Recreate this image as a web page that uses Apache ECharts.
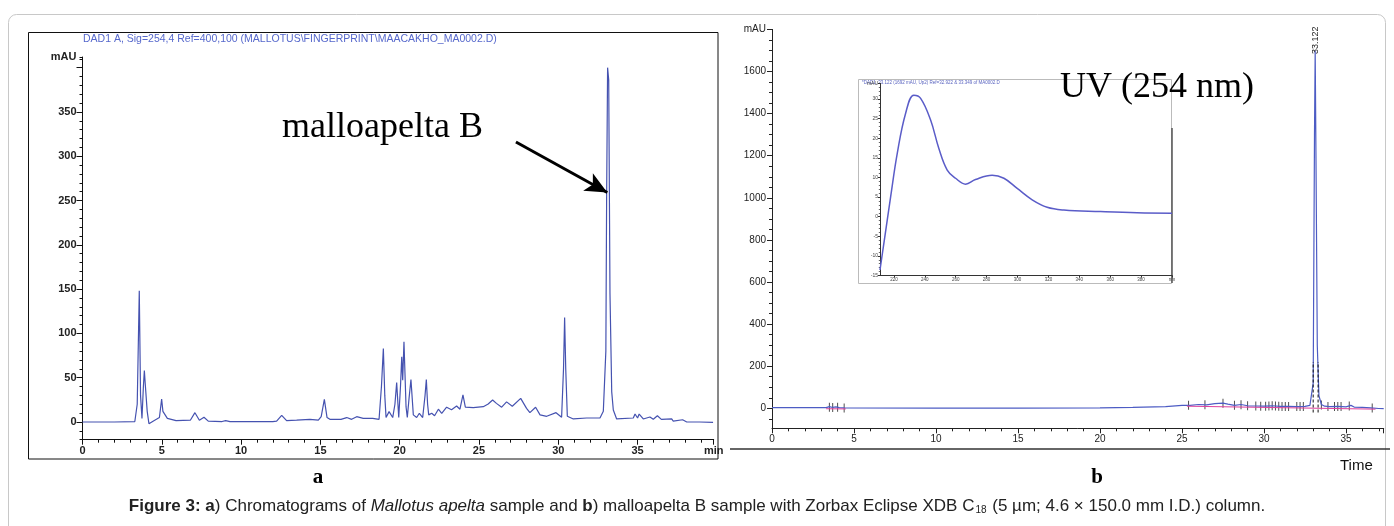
<!DOCTYPE html>
<html><head><meta charset="utf-8">
<script src="https://cdn.jsdelivr.net/npm/echarts@6/dist/echarts.min.js"></script>
<style>html,body{margin:0;padding:0;background:#fff}#c{width:1394px;height:526px}</style>
</head><body><div id="c"></div>
<script>
// ---- Panel a: chromatogram of Mallotus apelta sample (time min, mAU) ----
const leftTrace = [[0,0],[2.0,0],[3.3,0.5],[3.45,20],[3.58,148],[3.66,30],[3.75,4],[3.84,40],[3.90,58],[3.96,42],[4.0,40],[4.08,12],[4.19,-2],[4.5,1.5],[4.85,5],[4.99,26],[5.07,12],[5.12,10],[5.35,4],[5.9,1.5],[6.8,2],[7.09,10.5],[7.37,2],[7.66,5.3],[7.93,1],[8.8,0.5],[9.03,1.5],[9.3,0.5],[12.0,0.5],[12.24,1],[12.56,7.5],[12.87,1.5],[13.5,2],[14.34,3],[14.87,2],[15.05,6],[15.25,25.6],[15.42,5],[15.6,3],[16.3,3],[16.66,5],[16.97,3],[17.29,6],[17.7,4],[18.3,4],[18.7,3],[18.85,40],[18.97,83],[19.06,30],[19.14,5],[19.33,11.7],[19.56,5],[19.7,20],[19.81,44.4],[19.94,5],[20.05,40],[20.13,73.7],[20.19,47],[20.27,90.6],[20.4,17.3],[20.48,5],[20.59,26.7],[20.71,48],[20.86,8],[21.07,5],[21.24,9.8],[21.45,5],[21.6,30],[21.68,48],[21.76,20],[21.83,8],[22.02,9.8],[22.2,7],[22.44,14.4],[22.65,9.8],[22.96,16.7],[23.27,13.8],[23.59,18],[23.8,14.4],[23.99,30.5],[24.14,16.7],[24.64,16.3],[25.27,17.3],[25.58,20.3],[25.86,24.8],[26.1,21],[26.43,16.7],[26.74,22.7],[27.1,17.7],[27.63,26.7],[28.0,15.4],[28.21,10.5],[28.57,16.6],[28.85,8],[29.27,6.4],[29.86,10.5],[30.21,5.3],[30.33,60],[30.4,118],[30.47,60],[30.57,6.4],[30.95,3.4],[31.79,4.5],[32.63,4.5],[32.84,12],[32.96,13.5],[33.0,80],[33.05,258],[33.11,400],[33.18,386],[33.26,145],[33.37,34],[33.47,13.5],[33.68,3.4],[34.73,4.5],[34.84,9],[35.0,4.5],[35.1,9],[35.36,3.4],[35.78,5.6],[35.99,3],[36.25,7],[36.5,3],[37.15,3.4],[37.25,1],[37.84,2.5],[38.1,0],[38.9,0],[39.76,-0.5]];
const leftXLabels = [0,5,10,15,20,25,30,35];
const leftYLabels = [0,50,100,150,200,250,300,350];
const leftYMajor = [0,50,100,150,200,250,300,350,400];
const arrowFrom = [27.33,316];
const arrowTo = [33.09,259];

// ---- Panel b: malloapelta B sample ----
const rightTrace = [[0,3],[3.3,3],[3.5,8],[3.7,4],[3.9,7],[4.1,3],[4.4,2],[10,1],[15,1],[20,2],[22,4],[24,8],[25,14],[25.5,14],[26,18],[26.5,16],[27,22],[27.5,25],[27.8,20],[28.2,14],[28.6,18],[29,12],[29.5,11],[30,10],[30.5,12],[31,9],[31.5,9],[32,8],[32.5,9],[32.8,14],[33.0,120],[33.08,1300],[33.122,1700],[33.17,1200],[33.25,300],[33.35,60],[33.5,18],[33.7,10],[34,8],[34.5,9],[35,7],[35.3,14],[35.5,6],[36,4],[36.5,2],[37,-1],[37.3,-2]];
const baselineA = [[3.3,-2],[4.5,-3]];
const baselineB = [[25.3,10],[36.8,-4]];
const markerTimes = [3.5,3.7,4.0,4.4,25.4,26.4,27.5,28.2,28.6,29.0,29.5,29.8,30.1,30.3,30.5,30.7,30.9,31.1,31.3,31.5,32.0,32.2,32.4,33.5,33.9,34.3,34.5,34.7,35.2,36.6];
const markerValues = [5,4,5,2,14,17,24,14,17,12,11,10,10,11,12,11,10,9,9,9,8,8,9,16,8,8,8,9,11,1];
const peakTime = 33.122, peakValue = 1700, peakLabel = '33.122';
const dashLeft = [[33.0,-20],[33.0,220]];
const dashRight = [[33.3,-20],[33.3,220]];
const rightYLabels = [0,200,400,600,800,1000,1200,1400,1600,1800];

// ---- Inset: UV spectrum (nm, mAU) ----
const uvSpectrum = [[211,-13.6],[213.5,-6.8],[217.9,5.1],[222.2,16.2],[227.6,26.4],[232.9,31],[237.3,30.2],[243.7,24.7],[249.1,17.4],[254.5,11.9],[259.9,9.8],[266.4,8.3],[272.8,9.5],[283.6,10.6],[291.2,9.8],[299.8,7.2],[309.5,4.3],[319.2,2.4],[330,1.7],[353.7,1.3],[377.4,1.0],[400,0.9]];
const insetXLabels = [220,240,260,280,300,320,340,360,380,400];

function steps(a,b,s){const r=[];for(let v=a;v<=b+1e-9;v+=s)r.push(+v.toFixed(3));return r;}

const chart = echarts.init(document.getElementById('c'), null, {renderer:'canvas'});
const F = 'Arial, "Liberation Sans", sans-serif';
const black = '#111';

chart.setOption({
  animation:false,
  backgroundColor:'#fff',
  grid:[
    {left:82.5, top:57, width:631.2, height:382.7},
    {left:772, top:29.4, width:611.7, height:398.9},
    {left:880, top:83.4, width:292, height:192.1}
  ],
  xAxis:[
    {gridIndex:0,type:'value',min:0,max:39.8,interval:5,position:'bottom',
     axisLine:{onZero:false,lineStyle:{color:black,width:1}},axisTick:{length:5,lineStyle:{color:black}},
     minorTick:{show:true,splitNumber:5,length:3,lineStyle:{color:black}},
     splitLine:{show:false},
     axisLabel:{fontFamily:F,fontSize:11,fontWeight:'bold',color:'#222',margin:6,
       formatter:v=>v>36?'min':(leftXLabels.indexOf(v)>=0?String(v):'')}},
    {gridIndex:1,type:'value',min:0,max:37.3,interval:5,position:'bottom',
     axisLine:{onZero:false,lineStyle:{color:'#222',width:1}},axisTick:{length:5,lineStyle:{color:'#222'}},
     minorTick:{show:true,splitNumber:5,length:3,lineStyle:{color:'#222'}},
     splitLine:{show:false},
     axisLabel:{fontFamily:F,fontSize:10,color:'#222',margin:6,formatter:v=>(v%5===0?String(v):'')}},
    {gridIndex:2,type:'value',min:211,max:400,position:'bottom',
     axisLine:{onZero:false,lineStyle:{color:'#333',width:1}},
     axisTick:{length:2,customValues:insetXLabels,lineStyle:{color:'#333'}},
     splitLine:{show:false},
     axisLabel:{fontFamily:F,fontSize:4.5,color:'#444',margin:2,customValues:insetXLabels,
       formatter:v=>v===400?'nm':String(v)}}
  ],
  yAxis:[
    {gridIndex:0,type:'value',min:-20,max:412,position:'left',
     axisLine:{show:true,onZero:false,lineStyle:{color:black,width:1}},
     axisTick:{show:true,length:3,customValues:steps(-20,410,10).concat([412]),lineStyle:{color:black}},
     splitLine:{show:false},
     axisLabel:{fontFamily:F,fontSize:11,fontWeight:'bold',color:'#222',margin:6,
       customValues:leftYLabels.concat([412]),formatter:v=>v===412?'mAU':String(v)}},
    {gridIndex:0,type:'value',min:-20,max:412,position:'left',
     axisLine:{show:false,onZero:false},axisTick:{show:true,length:6,customValues:leftYMajor,lineStyle:{color:black}},
     splitLine:{show:false},axisLabel:{show:false}},
    {gridIndex:1,type:'value',min:-95,max:1800,position:'left',
     axisLine:{show:true,onZero:false,lineStyle:{color:'#222',width:1}},
     axisTick:{show:true,length:3,customValues:steps(-50,1800,50),lineStyle:{color:'#222'}},
     splitLine:{show:false},
     axisLabel:{fontFamily:F,fontSize:10,color:'#222',margin:6,
       customValues:rightYLabels,formatter:v=>v===1800?'mAU':String(v)}},
    {gridIndex:1,type:'value',min:-95,max:1800,position:'left',
     axisLine:{show:false,onZero:false},axisTick:{show:true,length:5,customValues:rightYLabels,lineStyle:{color:'#222'}},
     splitLine:{show:false},axisLabel:{show:false}},
    {gridIndex:2,type:'value',min:-15,max:34,interval:5,position:'left',
     axisLine:{show:true,onZero:false,lineStyle:{color:'#333',width:1}},
     axisTick:{show:true,length:2,lineStyle:{color:'#333'}},
     minorTick:{show:true,splitNumber:5,length:1.2,lineStyle:{color:'#666'}},
     splitLine:{show:false},
     axisLabel:{fontFamily:F,fontSize:5,color:'#444',margin:2,formatter:v=>v===34?'mAU':String(v)}}
  ],
  series:[
    {type:'line',xAxisIndex:0,yAxisIndex:0,data:leftTrace,showSymbol:false,symbol:'none',
     lineStyle:{color:'#4552b0',width:1.2},
     markLine:{silent:true,symbol:['none','arrow'],symbolSize:[15,22],
       lineStyle:{color:'#000',width:3,type:'solid'},label:{show:false},
       data:[[{coord:arrowFrom},{coord:arrowTo}]]}},
    {type:'line',xAxisIndex:1,yAxisIndex:2,data:rightTrace,showSymbol:false,symbol:'none',
     lineStyle:{color:'#4d5cc4',width:1.2},
     markPoint:{silent:true,symbol:'circle',symbolSize:1,itemStyle:{color:'rgba(0,0,0,0)'},
       label:{show:true,formatter:peakLabel,position:'top',distance:-4,rotate:90,align:'left',verticalAlign:'middle',
         fontFamily:F,fontSize:9,color:'#222'},
       data:[{coord:[peakTime,peakValue]}]}},
    {type:'line',xAxisIndex:1,yAxisIndex:2,data:baselineA,showSymbol:false,symbol:'none',lineStyle:{color:'#e0409c',width:1}},
    {type:'line',xAxisIndex:1,yAxisIndex:2,data:baselineB,showSymbol:false,symbol:'none',lineStyle:{color:'#e0409c',width:1}},
    {type:'scatter',xAxisIndex:1,yAxisIndex:2,data:markerTimes.map((t,i)=>[t,markerValues[i]]),
     symbol:'rect',symbolSize:[1,9],itemStyle:{color:'#222'}},
    {type:'line',xAxisIndex:1,yAxisIndex:2,data:dashLeft,showSymbol:false,symbol:'none',lineStyle:{color:'#111',width:1,type:[3,2]}},
    {type:'line',xAxisIndex:1,yAxisIndex:2,data:dashRight,showSymbol:false,symbol:'none',lineStyle:{color:'#111',width:1,type:[3,2]}},
    {type:'line',xAxisIndex:2,yAxisIndex:4,data:uvSpectrum,showSymbol:false,symbol:'none',smooth:0.4,
     lineStyle:{color:'#5a5cc8',width:1.5}}
  ],
  graphic:[
    {type:'rect',shape:{x:8.5,y:14.5,width:1377,height:540,r:8},style:{fill:'none',stroke:'#c8c8c8',lineWidth:1},silent:true},
    {type:'rect',shape:{x:28.5,y:32.5,width:689.5,height:426.5},style:{fill:'none',stroke:'#111',lineWidth:1},silent:true},
    {type:'line',shape:{x1:730,y1:449,x2:1390,y2:449},style:{stroke:'#333',lineWidth:1.5},silent:true},
    {type:'rect',shape:{x:858.5,y:79.5,width:313,height:204},style:{fill:'none',stroke:'#bbb',lineWidth:1},silent:true},
    {type:'line',shape:{x1:1172,y1:128,x2:1172,y2:283},style:{stroke:'#555',lineWidth:1.5},silent:true},
    {type:'text',x:83,y:39,style:{text:'DAD1 A, Sig=254,4 Ref=400,100 (MALLOTUS\\FINGERPRINT\\MAACAKHO_MA0002.D)',
      font:'10.5px '+F,fill:'#5668cc',textVerticalAlign:'middle'},silent:true},
    {type:'text',x:862,y:82.5,style:{text:'*DAD1, 33.122 (1692 mAU, Up2) Ref=32.922 & 33.349 of MA0002.D',
      font:'4.5px '+F,fill:'#5a64c0',textVerticalAlign:'middle'},silent:true},
    {type:'text',x:282,y:128,style:{text:'malloapelta B',font:'36px "Liberation Serif", "Times New Roman", serif',fill:'#000',textVerticalAlign:'middle'},silent:true},
    {type:'text',x:1060,y:88,style:{text:'UV (254 nm)',font:'36px "Liberation Serif", "Times New Roman", serif',fill:'#000',textVerticalAlign:'middle'},silent:true},
    {type:'text',x:318,y:478,style:{text:'a',font:'bold 21px "Liberation Serif", "Times New Roman", serif',fill:'#000',textAlign:'center',textVerticalAlign:'middle'},silent:true},
    {type:'text',x:1097,y:478,style:{text:'b',font:'bold 21px "Liberation Serif", "Times New Roman", serif',fill:'#000',textAlign:'center',textVerticalAlign:'middle'},silent:true},
    {type:'text',x:1340,y:466,style:{text:'Time',font:'15px '+F,fill:'#111',textVerticalAlign:'middle'},silent:true},
    {type:'text',x:697,y:506,style:{
      text:'{b|Figure 3:} {b|a}) Chromatograms of {i|Mallotus apelta} sample and {b|b}) malloapelta B sample with Zorbax Eclipse XDB C{s|18} (5 µm; 4.6 × 150.0 mm I.D.) column.',
      font:'17px '+F,fill:'#222',textAlign:'center',textVerticalAlign:'middle',
      rich:{b:{fontWeight:'bold',fontSize:17,fontFamily:F,fill:'#222'},
            i:{fontStyle:'italic',fontSize:17,fontFamily:F,fill:'#222'},
            s:{fontSize:10,fontFamily:F,fill:'#222',verticalAlign:'bottom',padding:[9,1,0,1]}}},silent:true}
  ]
});
</script></body></html>
